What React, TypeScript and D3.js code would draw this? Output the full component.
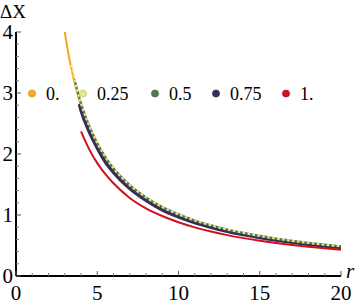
import * as d3 from "d3";

const W = 360;
const H = 308;

// values
const rOrange = [3, 3.25, 3.5, 3.75, 4, 4.5, 5, 5.5, 6, 7, 8, 9, 10, 11, 12, 13, 14, 15, 16, 17, 18, 19, 20];
const dxOrange = [4.0, 3.61, 3.29, 3.02, 2.79, 2.43, 2.15, 1.92, 1.74, 1.47, 1.27, 1.11, 0.995, 0.898, 0.819, 0.752, 0.696, 0.647, 0.605, 0.568, 0.535, 0.506, 0.48];

const rYellow = [3.4, 3.5, 3.75, 4, 4.5, 5, 5.5, 6, 7, 8, 9, 10, 11, 12, 13, 14, 15, 16, 17, 18, 19, 20];
const dxYellow = [3.46, 3.34, 3.065, 2.83, 2.465, 2.18, 1.95, 1.766, 1.49, 1.29, 1.13, 1.01, 0.911, 0.831, 0.763, 0.706, 0.657, 0.614, 0.577, 0.543, 0.514, 0.487];

const rGreen = [3.6, 3.75, 4, 4.5, 5, 5.5, 6, 7, 8, 9, 10, 11, 12, 13, 14, 15, 16, 17, 18, 19, 20];
const dxGreen = [3.22, 3.065, 2.83, 2.465, 2.18, 1.95, 1.766, 1.49, 1.29, 1.13, 1.01, 0.911, 0.831, 0.763, 0.706, 0.657, 0.614, 0.577, 0.543, 0.514, 0.487];

const rPurple = [3.9, 4, 4.5, 5, 5.5, 6, 7, 8, 9, 10, 11, 12, 13, 14, 15, 16, 17, 18, 19, 20];
const dxPurple = [2.82, 2.72, 2.37, 2.1, 1.87, 1.7, 1.435, 1.24, 1.085, 0.97, 0.876, 0.8, 0.733, 0.679, 0.631, 0.59, 0.554, 0.522, 0.493, 0.468];

const rRed = [4, 4.5, 5, 5.5, 6, 7, 8, 9, 10, 11, 12, 13, 14, 15, 16, 17, 18, 19, 20];
const dxRed = [2.37, 2.08, 1.85, 1.67, 1.52, 1.28, 1.11, 0.984, 0.881, 0.797, 0.728, 0.67, 0.621, 0.578, 0.541, 0.508, 0.479, 0.453, 0.43];

const legendLabels = ["0.", "0.25", "0.5", "0.75", "1."];
const colors = ["#f5a623", "#e6e68c", "#4c7a55", "#3a2c5c", "#d0101c"];
const strokes = ["#d08a10", "#b8b86a", "#3a6042", "#2a1f45", "#a00c14"];

const xTicks = [0, 5, 10, 15, 20];
const yTicks = [0, 1, 2, 3, 4];

const CSS = "#dxchart text { font-family: 'Liberation Serif', serif !important; }";

export default function App() {
  const x = d3.scaleLinear().domain([0, 20]).range([16, 341]);
  const y = d3.scaleLinear().domain([0, 4]).range([276, 32]);

  const line = d3
    .line<[number, number]>()
    .x((d) => x(d[0]))
    .y((d) => y(d[1]))
    .curve(d3.curveMonotoneX);

  const zip = (a: number[], b: number[]) => a.map((v, i) => [v, b[i]] as [number, number]);

  const xMinor = d3.range(0, 20.01, 1).filter((v) => v % 5 !== 0);
  const yMinor = d3.range(0, 4.01, 0.2).filter((v) => Math.abs(v - Math.round(v)) > 0.01);

  const legendX = [32, 83, 155, 216, 286];
  const legendY = 93.5;

  return (
    <svg id="dxchart" width={W} height={H} style={{ position: "absolute", left: 0, top: 0, background: "#fff" }}>
      <style>{CSS}</style>
      {/* curves */}
      <path d={line(zip(rOrange, dxOrange)) || ""} fill="none" stroke={colors[0]} strokeWidth={2} />
      <path d={line(zip(rPurple, dxPurple)) || ""} fill="none" stroke={colors[3]} strokeWidth={3.5} />
      <path d={line(zip(rGreen, dxGreen)) || ""} fill="none" stroke={colors[2]} strokeWidth={2.2} />
      <path
        d={line(zip(rYellow, dxYellow)) || ""}
        fill="none"
        stroke="#efe77a"
        strokeWidth={2.2}
        strokeDasharray="2.5,2.5"
      />
      <path d={line(zip(rRed, dxRed)) || ""} fill="none" stroke={colors[4]} strokeWidth={2} />

      {/* axes */}
      <line x1={x(0)} x2={x(20)} y1={y(0)} y2={y(0)} stroke="#000" strokeWidth={2} />
      <line x1={x(0)} x2={x(0)} y1={y(0)} y2={y(4)} stroke="#000" strokeWidth={2} />
      {xTicks.map((t) => (
        <line key={"xt" + t} x1={x(t)} x2={x(t)} y1={y(0)} y2={y(0) - 5} stroke="#555" strokeWidth={1} />
      ))}
      {xMinor.map((t) => (
        <line key={"xm" + t} x1={x(t)} x2={x(t)} y1={y(0)} y2={y(0) - 3} stroke="#777" strokeWidth={1} />
      ))}
      {yTicks.map((t) => (
        <line key={"yt" + t} x1={x(0)} x2={x(0) + 5} y1={y(t)} y2={y(t)} stroke="#555" strokeWidth={1} />
      ))}
      {yMinor.map((t) => (
        <line key={"ym" + t} x1={x(0)} x2={x(0) + 3} y1={y(t)} y2={y(t)} stroke="#777" strokeWidth={1} />
      ))}
      {xTicks.map((t) => (
        <text key={"xl" + t} x={x(t)} y={y(0) + 24} textAnchor="middle" fontSize={21}>
          {t}
        </text>
      ))}
      {yTicks.map((t) => (
        <text key={"yl" + t} x={x(0) - 3} y={y(t) + 7} textAnchor="end" fontSize={21}>
          {t}
        </text>
      ))}
      <text x={0} y={18} fontSize={19}>
        ΔX
      </text>
      <text x={346} y={278} fontSize={21} fontStyle="italic">
        r
      </text>

      {/* legend */}
      {legendLabels.map((l, i) => (
        <g key={l}>
          <circle cx={legendX[i]} cy={legendY} r={3.6} fill={colors[i]} stroke={strokes[i]} strokeWidth={0.6} />
          <text x={legendX[i] + 14} y={legendY + 6} fontSize={18}>
            {l}
          </text>
        </g>
      ))}
    </svg>
  );
}
